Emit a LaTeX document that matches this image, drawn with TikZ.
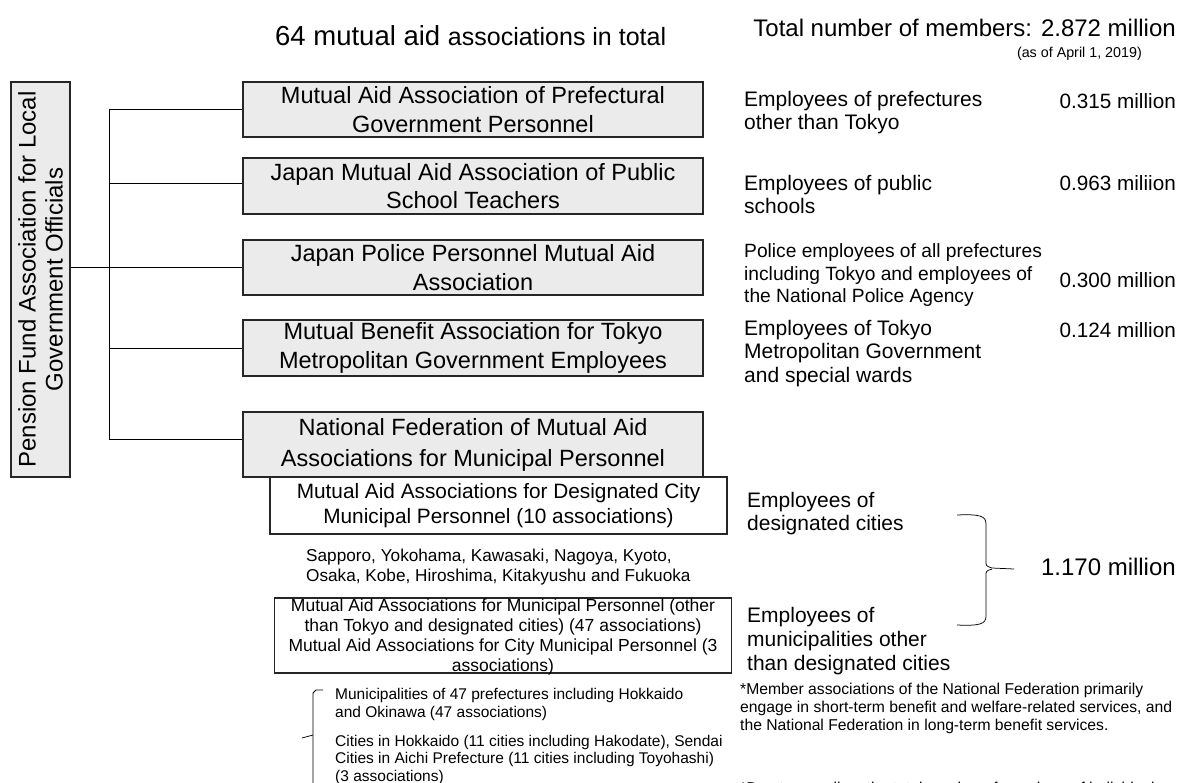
\documentclass[tikz,border=0pt]{standalone}
\usepackage{fontspec}
\setmainfont{Liberation Sans}
\usepackage{tikz}
\usetikzlibrary{positioning,calc}
\definecolor{boxgray}{RGB}{235,235,235}
\newcommand{\fs}[2]{\fontsize{#1}{#2}\selectfont}

\begin{document}
\begin{tikzpicture}[x=1pt,y=-1pt,
  orgbox/.style={draw=black!85,line width=1.1pt,fill=boxgray,inner sep=0pt,
    minimum width=460pt,minimum height=56pt,align=center,font=\fs{23.5}{28.5}},
  subbox/.style={draw=black!85,line width=1.1pt,fill=white,inner sep=0pt,minimum width=457pt},
  txt/.style={anchor=west,align=left,inner sep=0pt},
  num/.style={anchor=east,inner sep=0pt,font=\fs{20.7}{24}},
  link/.style={line width=0.75pt}]
\useasboundingbox (0,0) rectangle (1190,782);
\pgfmathsetmacro{\boxx}{473}

\node[anchor=base west,inner sep=0pt,font=\fs{27.5}{30}] (title) at (275,45) {64 mutual aid {\fs{25}{30}associations in total}};
\node[anchor=base east,inner sep=0pt,font=\fs{24}{28}] (total) at (1176,36.5) {Total number of members: 2.872 million};
\node[anchor=east,inner sep=0pt,font=\fs{14.3}{17}] (asof) at (1142,54) {(as of April 1, 2019)};

\node[draw=black!85,line width=1.1pt,fill=boxgray,rotate=90,inner sep=0pt,
  minimum width=395pt,minimum height=59pt,align=center,font=\fs{24}{27}] (pfa) at (40.5,279.5)
  {Pension Fund Association for Local\\Government Officials};

\node[orgbox,minimum height=55pt] (mapg) at (\boxx,109.5) {Mutual Aid Association of Prefectural\\Government Personnel};
\node[orgbox] (jmas) at (\boxx,186) {Japan Mutual Aid Association of Public\\School Teachers};
\node[orgbox,minimum height=55pt] (jpp) at (\boxx,267.5) {Japan Police Personnel Mutual Aid\\Association};
\node[orgbox] (mbat) at (\boxx,348) {Mutual Benefit Association for Tokyo\\Metropolitan Government Employees};
\node[orgbox,minimum height=65pt,font=\fs{23.5}{31}] (nfm) at (\boxx,444.5) {National Federation of Mutual Aid\\Associations for Municipal Personnel};

\coordinate (ttop) at (109,109);
\coordinate (tbot) at (109,439);
\draw[link] (ttop) -- (tbot);
\draw[link] (pfa.south |- jpp.west) -- (jpp.west);
\draw[link] (ttop) -- (ttop -| mapg.west);
\draw[link] ([yshift=3pt]ttop |- jmas.west) -- ([yshift=3pt]jmas.west);
\draw[link] (ttop |- mbat.west) -- (mbat.west);
\draw[link] (tbot) -- (tbot -| nfm.west);

\node[subbox,minimum height=57pt,align=center,font=\fs{20.8}{25}] (dcity) at (498.5,505.5)
  {Mutual Aid Associations for Designated City\\Municipal Personnel (10 associations)};
\node[txt,font=\fs{17.2}{20}] (cities) at (306,567)
  {Sapporo, Yokohama, Kawasaki, Nagoya, Kyoto,\\Osaka, Kobe, Hiroshima, Kitakyushu and Fukuoka};
\node[subbox,minimum height=75pt] (muni) at (503,635.5) {};
\node[align=center,inner sep=0pt,font=\fs{17.5}{20}] (munitxt) at ($(muni.center)+(0,1.5)$)
  {Mutual Aid Associations for Municipal Personnel (other\\than Tokyo and designated cities) (47 associations)\\Mutual Aid Associations for City Municipal Personnel (3\\associations)};

\draw[link] (323,690) -- (316,690) -- (313,693) -- (313,790);
\draw[link] (313,735) -- (302,738);
\node[txt,font=\fs{15.5}{18}] (pref47) at (335,704)
  {Municipalities of 47 prefectures including Hokkaido\\and Okinawa (47 associations)};
\node[txt,font=\fs{15.5}{17.5}] (city3) at (335,759.5)
  {Cities in Hokkaido (11 cities including Hakodate), Sendai\\Cities in Aichi Prefecture (11 cities including Toyohashi)\\(3 associations)};

\node[txt,font=\fs{21}{23}] (e1) at (744,112.5) {Employees of prefectures\\other than Tokyo};
\node[num] (n1) at (1176,101) {0.315 million};
\node[txt,font=\fs{21}{23}] (e2) at (744,194.5) {Employees of public\\schools};
\node[num] (n2) at (1176,183) {0.963 miliion};
\node[txt,font=\fs{19.2}{22.5}] (e3) at (744,275.5) {Police employees of all prefectures\\including Tokyo and employees of\\the National Police Agency};
\node[num] (n3) at (1176,280) {0.300 million};
\node[txt,font=\fs{21}{23.5}] (e4) at (744,353.5) {Employees of Tokyo\\Metropolitan Government\\and special wards};
\node[num] (n4) at (1176,330) {0.124 million};

\node[txt,font=\fs{21}{23}] (e5) at (747,513.5) {Employees of\\designated cities};
\node[txt,font=\fs{21}{24}] (e6) at (747,641) {Employees of\\municipalities other\\than designated cities};
\draw[link] (957,515) .. controls (980,514) and (986,516) .. (986,524) -- (986,561)
  .. controls (986,566) .. (992,568) -- (1014,569);
\draw[link] (957,625) .. controls (980,626) and (986,624) .. (986,616) -- (986,576)
  .. controls (986,571) .. (992,569);
\node[anchor=east,inner sep=0pt,font=\fs{24}{28}] (sum) at (1176,567) {1.170 million};

\node[txt,font=\fs{15.7}{18}] (note1) at (740,708)
  {*Member associations of the National Federation primarily\\engage in short-term benefit and welfare-related services, and\\the National Federation in long-term benefit services.};
\node[txt,font=\fs{15.7}{18}] (note2) at (740,789.5)
  {*Due to rounding, the total number of members of individual associations};
\end{tikzpicture}
\end{document}
